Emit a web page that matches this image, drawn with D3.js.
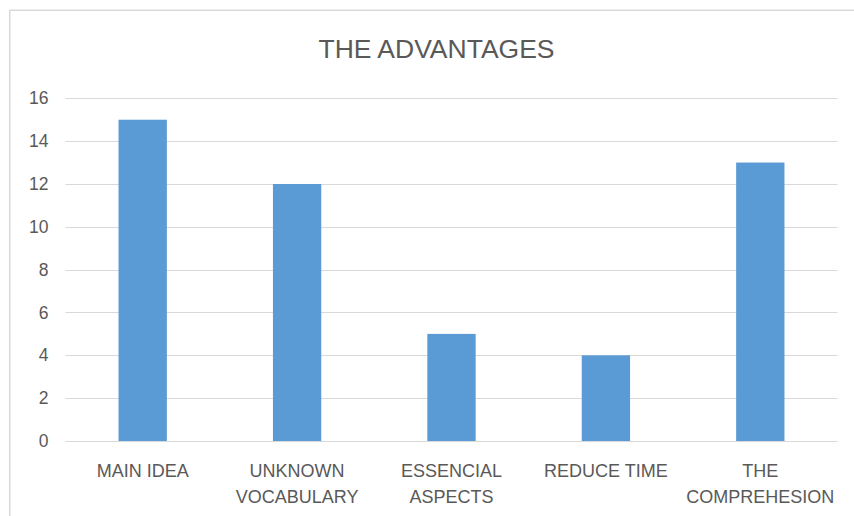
<!DOCTYPE html>
<html>
<head>
<meta charset="utf-8">
<script src="https://cdn.jsdelivr.net/npm/d3@7"></script>
<style>
  html, body { margin: 0; padding: 0; background: #fff; }
  svg { display: block; }
  text { font-family: "Liberation Sans", Arial, sans-serif; fill: #595959; }
</style>
</head>
<body>
<svg id="chart" width="854" height="516"></svg>
<script>
const categories = [["MAIN IDEA"], ["UNKNOWN", "VOCABULARY"], ["ESSENCIAL", "ASPECTS"], ["REDUCE TIME"], ["THE", "COMPREHESION"]];
const values = [15, 12, 5, 4, 13];
const yTicks = [0, 2, 4, 6, 8, 10, 12, 14, 16];
const title = "THE ADVANTAGES";

const svg = d3.select("#chart");
const W = 854, H = 516;

// chart frame
svg.append("rect")
  .attr("x", 9.75).attr("y", 10.25)
  .attr("width", 900).attr("height", 600)
  .attr("fill", "#fff")
  .attr("stroke", "#d9d9d9")
  .attr("stroke-width", 1.5);

const keys = categories.map(c => c.join(" "));
const x = d3.scaleBand().domain(keys).range([65.5, 837.5]).paddingInner(0.687).paddingOuter(0.3435);
const y = d3.scaleLinear().domain([0, 16]).range([441, 98.3]);

// gridlines
svg.append("g").selectAll("line").data(yTicks).join("line")
  .attr("x1", 65.5).attr("x2", 837.5)
  .attr("y1", d => Math.round(y(d)) + 0.5).attr("y2", d => Math.round(y(d)) + 0.5)
  .attr("stroke", "#d9d9d9").attr("stroke-width", 1);

// y axis labels
const yAxis = d3.axisLeft(y).tickValues(yTicks).tickSize(0).tickPadding(17);
const gy = svg.append("g").attr("transform", "translate(65.5,0)").call(yAxis);
gy.select(".domain").remove();
gy.selectAll("text").style("font-size", "17.5px").attr("fill", "#595959")
  .style("font-family", '"Liberation Sans", Arial, sans-serif');

// bars
svg.append("g").selectAll("rect").data(values).join("rect")
  .attr("x", (d, i) => x(keys[i]))
  .attr("width", x.bandwidth())
  .attr("y", d => y(d))
  .attr("height", d => y(0) - y(d))
  .attr("fill", "#5b9bd5");

// x labels
const xl = svg.append("g").selectAll("text").data(categories).join("text")
  .attr("text-anchor", "middle")
  .attr("x", (d, i) => x(keys[i]) + x.bandwidth() / 2)
  .attr("y", 476.5)
  .style("font-size", "18px");
xl.selectAll("tspan").data(d => d).join("tspan")
  .attr("x", function() { return d3.select(this.parentNode).attr("x"); })
  .attr("dy", (d, i) => i === 0 ? 0 : 26.7)
  .text(d => d);

// title
svg.append("text")
  .attr("x", 436.5).attr("y", 58.3)
  .attr("text-anchor", "middle")
  .style("font-size", "26.5px")
  .text(title);
</script>
</body>
</html>
